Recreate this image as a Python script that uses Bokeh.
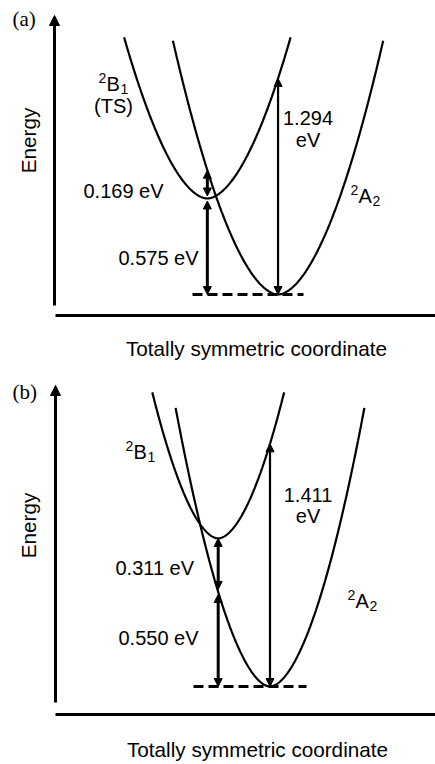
import numpy as np
from bokeh.plotting import figure
from bokeh.models import Range1d, Label, Arrow, NormalHead
from bokeh.layouts import column
from bokeh.embed import file_html
from bokeh.resources import INLINE

# ---------------- data ----------------
panel_tags = ["(a)", "(b)"]
lower_gap_ev = [0.575, 0.550]        # lower double arrow at the 2B1 position
upper_gap_ev = [0.169, 0.311]        # upper double arrow at the 2B1 position
vertical_ev = [1.294, 1.411]         # 2B1 energy at the 2A2 minimum
b1_min_below_crossing = [True, False]
q_min_A2 = [3.965, 3.85]             # totally symmetric coordinate (arb. units)
q_min_B1 = [2.955, 3.11]
top_ev_B1 = [1.54, 1.71]             # energy where each drawn curve ends
top_ev_A2 = [1.52, 1.62]
b1_extra_label = ["(TS)", ""]
state_B1 = ("2", "B", "1")
state_A2 = ("2", "A", "2")
x_title = "Totally symmetric coordinate"
y_title = "Energy"

SHAPE_EXP = 1.8   # schematic potential-curve shape

# ---------------- layout (image pixels) ----------------
ORIGIN = 0
W = 435
PX_PER_Q = 70.0
SANS = "Liberation Sans"
SERIF = "Liberation Serif"
FS = "20px"
FS_TITLE = "20.7px"
FS_SMALL = "14px"
TEXT_DY = -8   # correction for where alphabetic-baseline labels land

layouts = [
    dict(top=0, h=368, y_zero=294, ppe=167.0,
         tag=(12, 26), yaxis=(54, 305, 15), xaxis=(55, 435, 315),
         ytitle=(27.5, 140), xtitle=(256, 356),
         b1=(106, 91), ts=(113, 113), a2=(358, 203),
         vlab=(307.5, 125, 147), low_lab=(118, 265), up_lab=(83, 198),
         dash=(192, 303)),
    dict(top=368, h=396, y_zero=686, ppe=172.0,
         tag=(12, 399), yaxis=(55, 702, 385), xaxis=(55, 435, 714),
         ytitle=(27.5, 525), xtitle=(257, 757),
         b1=(133, 459), ts=None, a2=(355, 608),
         vlab=(307.5, 502, 523), low_lab=(118, 645), up_lab=(115, 575),
         dash=(193, 306)),
]


def curve(q0, e0, k, e_top, n=301):
    half = ((e_top - e0) / k) ** (1.0 / SHAPE_EXP)
    q = np.linspace(q0 - half, q0 + half, n)
    return q, e0 + k * np.abs(q - q0) ** SHAPE_EXP


def head(size):
    return NormalHead(size=size, fill_color="black", line_color="black", line_width=1)


def make_panel(i, lay):
    X = lambda ix: (ix - ORIGIN) / PX_PER_Q
    Y = lambda iy: (lay["y_zero"] - iy) / lay["ppe"]
    ev_top = Y(lay["top"])
    ev_bot = Y(lay["top"] + lay["h"])
    p = figure(width=W, height=lay["h"], x_range=Range1d(0, W / PX_PER_Q),
               y_range=Range1d(ev_bot, ev_top), output_backend="svg",
               toolbar_location=None, min_border=0,
               x_axis_location=None, y_axis_location=None)
    p.grid.visible = False
    p.outline_line_color = None
    p.background_fill_color = "white"
    p.border_fill_color = "white"

    def label(ix, iy, text, font=SANS, size=FS, align="left", baseline="alphabetic", angle=0.0):
        dy = TEXT_DY if baseline == "alphabetic" else 0
        p.add_layout(Label(x=X(ix), y=Y(iy + dy), text=text, text_font=font, text_font_size=size,
                           text_align=align, text_baseline=baseline, angle=angle,
                           text_color="black"))

    # energies
    qA, qB = q_min_A2[i], q_min_B1[i]
    dq = abs(qA - qB)
    if b1_min_below_crossing[i]:
        b1_min = lower_gap_ev[i]
        a2_at_b1 = lower_gap_ev[i] + upper_gap_ev[i]
    else:
        a2_at_b1 = lower_gap_ev[i]
        b1_min = lower_gap_ev[i] + upper_gap_ev[i]
    k_A2 = a2_at_b1 / dq ** SHAPE_EXP
    k_B1 = (vertical_ev[i] - b1_min) / dq ** SHAPE_EXP

    # potential curves
    q, e = curve(qB, b1_min, k_B1, top_ev_B1[i])
    p.line(q, e, line_color="black", line_width=2.2)
    q, e = curve(qA, 0.0, k_A2, top_ev_A2[i])
    p.line(q, e, line_color="black", line_width=2.2)

    # dashed zero level
    d0, d1 = lay["dash"]
    p.line([X(d0), X(d1)], [0.0, 0.0], line_color="black", line_width=3, line_dash="10 5")

    # double arrows
    gap = 2.5 / lay["ppe"]
    mid = lower_gap_ev[i]
    top = lower_gap_ev[i] + upper_gap_ev[i]
    p.add_layout(Arrow(start=head(8), end=head(8), x_start=qB, y_start=0.0,
                       x_end=qB, y_end=mid - gap, line_width=3, line_color="black"))
    p.add_layout(Arrow(start=head(8), end=head(8), x_start=qB, y_start=mid + gap,
                       x_end=qB, y_end=top, line_width=3, line_color="black"))
    p.add_layout(Arrow(start=head(8), end=head(8), x_start=qA, y_start=0.0,
                       x_end=qA, y_end=vertical_ev[i], line_width=2.2, line_color="black"))

    # axes drawn as in the figure
    ax, ay0, ay1 = lay["yaxis"]
    p.add_layout(Arrow(end=head(10), start=None, x_start=X(ax), y_start=Y(ay0),
                       x_end=X(ax), y_end=Y(ay1), line_width=3, line_color="black"))
    bx0, bx1, by = lay["xaxis"]
    p.line([X(bx0), X(bx1)], [Y(by), Y(by)], line_color="black", line_width=3)

    # texts
    label(*lay["tag"], panel_tags[i], font=SERIF, size="21px")
    tx, ty = lay["ytitle"]
    label(tx, ty, y_title, size=FS_TITLE, align="center", baseline="middle", angle=np.pi / 2)
    label(*lay["xtitle"], x_title, size=FS_TITLE, align="center")

    def state(pos, parts):
        bx, by = pos
        label(bx - 8, by - 6, parts[0], size=FS_SMALL)
        label(bx, by, parts[1])
        label(bx + 14, by + 5, parts[2], size=FS_SMALL)

    state(lay["b1"], state_B1)
    if lay["ts"] is not None and b1_extra_label[i]:
        label(*lay["ts"], b1_extra_label[i], align="center")
    state(lay["a2"], state_A2)

    vx, vy0, vy1 = lay["vlab"]
    label(vx, vy0, f"{vertical_ev[i]:.3f}", align="center")
    label(vx, vy1, "eV", align="center")
    label(*lay["low_lab"], f"{lower_gap_ev[i]:.3f} eV")
    label(*lay["up_lab"], f"{upper_gap_ev[i]:.3f} eV")
    return p


figs = [make_panel(i, lay) for i, lay in enumerate(layouts)]
page = column(*figs, spacing=0)
open("out.html", "w").write(file_html(page, INLINE))
